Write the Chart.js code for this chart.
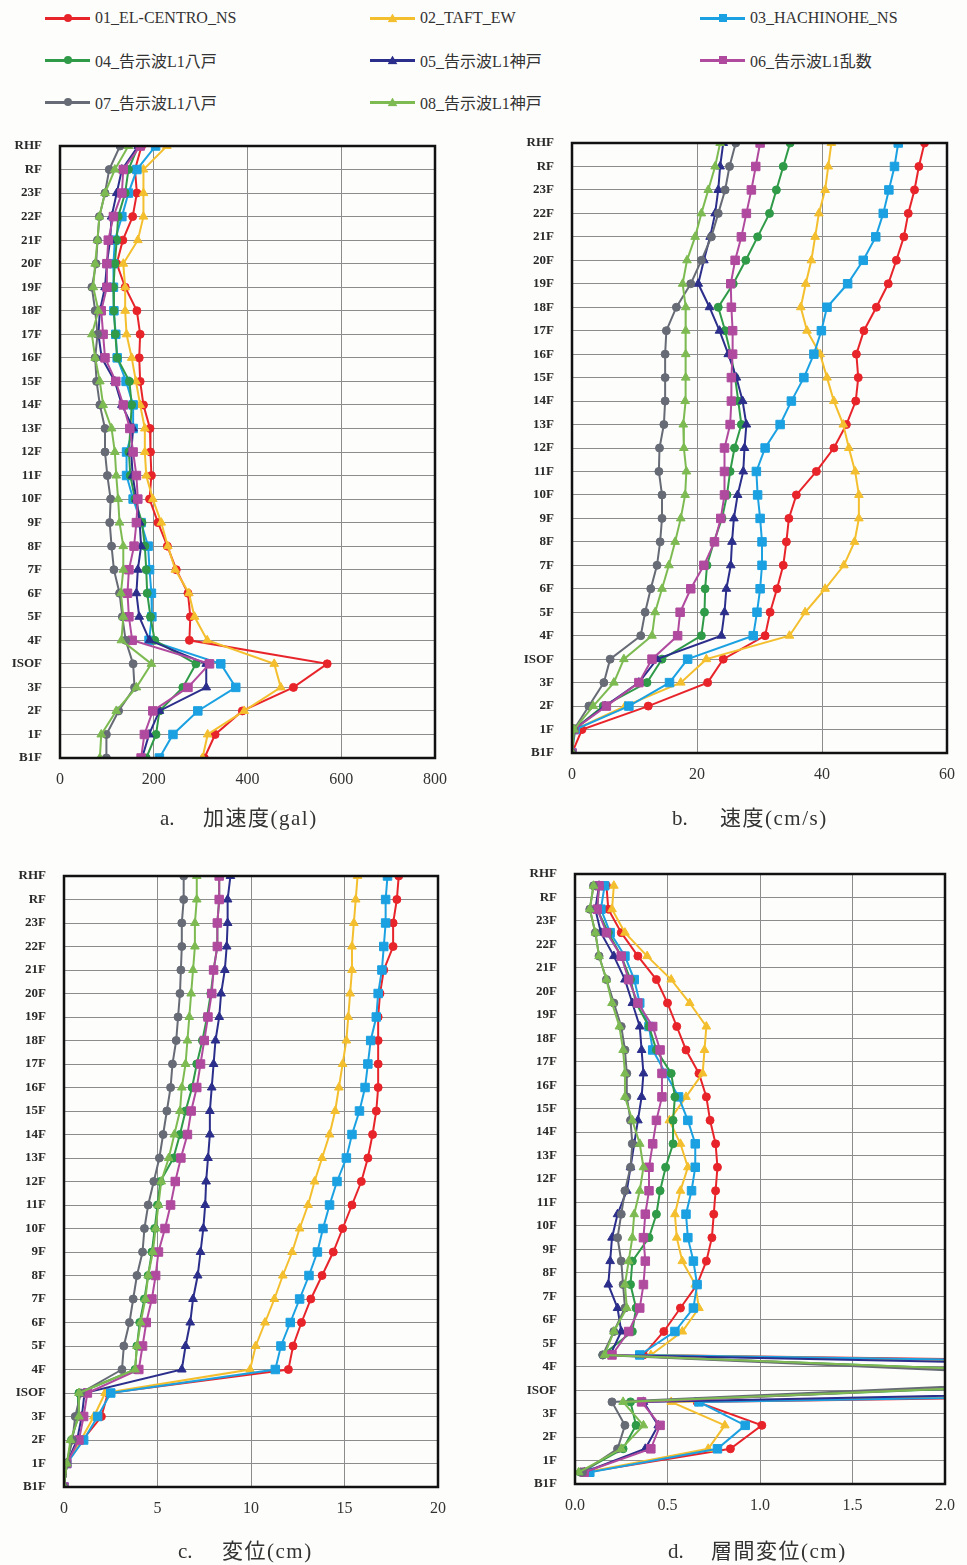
<!DOCTYPE html>
<html>
<head>
<meta charset="utf-8">
<script src="https://cdn.jsdelivr.net/npm/chart.js@4.4.1/dist/chart.umd.min.js"></script>
<style>
  html, body { margin: 0; padding: 0; background: #fdfdfb; }
  body { position: relative; width: 967px; height: 1565px; overflow: hidden;
         font-family: "Liberation Serif", "Noto Sans CJK JP", serif; color: #333; }
  .panel { position: absolute; }
  .legend-item { position: absolute; height: 20px; display: flex; align-items: center; font-size: 16px; white-space: nowrap; }
  .legend-line { position: relative; width: 45px; height: 3px; margin-right: 5px; }
  .legend-mark { position: absolute; left: 50%; top: 50%; transform: translate(-50%, -50%); }
  .caption { position: absolute; font-size: 21px; color: #333; white-space: nowrap; }
  .caption .tag { display: inline-block; }
  .caption .name { letter-spacing: 1.5px; }
</style>
</head>
<body>
<div id="legend"></div>

<canvas id="chartA" class="panel" width="460" height="720" style="left:0;top:120px"></canvas>
<canvas id="chartB" class="panel" width="467" height="700" style="left:500px;top:117px"></canvas>
<canvas id="chartC" class="panel" width="460" height="700" style="left:0;top:850px"></canvas>
<canvas id="chartD" class="panel" width="462" height="700" style="left:505px;top:848px"></canvas>

<div class="caption" style="left:160px;top:801px"><span class="tag" style="width:43px">a.</span><span class="name">加速度(gal)</span></div>
<div class="caption" style="left:672px;top:801px"><span class="tag" style="width:48px">b.</span><span class="name">速度(cm/s)</span></div>
<div class="caption" style="left:178px;top:1534px"><span class="tag" style="width:44px">c.</span><span class="name">変位(cm)</span></div>
<div class="caption" style="left:668px;top:1534px"><span class="tag" style="width:43px">d.</span><span class="name">層間変位(cm)</span></div>

<script>
// floor levels, top to bottom
const floors = ['RHF', 'RF', '23F', '22F', '21F', '20F', '19F', '18F', '17F', '16F', '15F', '14F', '13F',
  '12F', '11F', '10F', '9F', '8F', '7F', '6F', '5F', '4F', 'ISOF', '3F', '2F', '1F', 'B1F'];

const seriesNames = ['01_EL-CENTRO_NS', '02_TAFT_EW', '03_HACHINOHE_NS', '04_告示波L1八戸',
  '05_告示波L1神戸', '06_告示波L1乱数', '07_告示波L1八戸', '08_告示波L1神戸'];
const seriesColors = ['#e8242b', '#f4bf2e', '#1ba1e2', '#2f9a48', '#2b2e8a', '#b04a9e', '#666b75', '#7dbb52'];
const seriesMarkers = ['circle', 'triangle', 'rect', 'circle', 'triangle', 'rect', 'circle', 'triangle'];

// x tick values per panel
const accTicks = [0, 200, 400, 600, 800];
const velTicks = [0, 20, 40, 60];
const dspTicks = [0, 5, 10, 15, 20];
const drfTicks = [0, 0.5, 1.0, 1.5, 2.0];

// a. max acceleration (gal), per floor
const acc01 = [174, 160, 164, 155, 134, 121, 139, 164, 171, 169, 171, 178, 192, 193, 195, 191, 209, 229, 248, 273, 278, 276, 570, 498, 389, 331, 308];
const acc02 = [228, 178, 178, 178, 166, 135, 139, 139, 142, 153, 162, 171, 181, 181, 184, 198, 216, 230, 246, 275, 287, 314, 457, 471, 393, 315, 304];
const acc03 = [204, 164, 146, 132, 117, 114, 114, 115, 119, 122, 141, 156, 156, 142, 142, 156, 173, 188, 191, 195, 196, 190, 343, 375, 294, 241, 212];
const acc04 = [167, 146, 139, 124, 121, 117, 114, 115, 118, 122, 148, 153, 150, 147, 150, 160, 175, 181, 184, 186, 193, 202, 290, 262, 212, 205, 184];
const acc05 = [167, 132, 121, 110, 107, 100, 96, 85, 82, 89, 117, 132, 156, 152, 155, 163, 170, 173, 166, 163, 169, 191, 312, 312, 212, 190, 175];
const acc06 = [171, 135, 132, 114, 103, 100, 100, 88, 92, 96, 119, 135, 149, 156, 163, 166, 163, 158, 147, 144, 147, 154, 319, 273, 198, 180, 173];
const acc07 = [128, 105, 96, 84, 80, 77, 68, 75, 80, 75, 78, 85, 96, 96, 101, 108, 106, 110, 115, 127, 133, 140, 156, 159, 125, 99, 99];
const acc08 = [146, 117, 96, 84, 80, 75, 71, 82, 68, 75, 85, 92, 110, 117, 120, 124, 127, 135, 135, 130, 135, 131, 195, 163, 120, 88, 85];

// b. max velocity (cm/s), per floor
const vel01 = [56.4, 55.5, 54.8, 53.8, 53.1, 51.9, 50.6, 48.7, 46.7, 45.5, 45.8, 45.4, 43.9, 41.9, 39.1, 35.9, 34.7, 34.3, 33.8, 32.8, 31.7, 30.9, 24.2, 21.7, 12.2, 1.6, 0];
const vel02 = [41.5, 41.0, 40.5, 39.5, 38.9, 38.3, 37.4, 36.6, 37.6, 39.7, 40.8, 41.9, 43.4, 44.3, 45.3, 45.9, 45.9, 45.2, 43.5, 40.5, 37.3, 34.8, 21.5, 17.4, 8.5, 0.5, 0];
const vel03 = [52.2, 51.6, 50.7, 49.8, 48.6, 46.6, 44.1, 40.8, 39.9, 38.7, 37.1, 35.1, 33.3, 30.9, 29.5, 29.7, 30.1, 30.4, 30.4, 30.1, 29.6, 29.0, 18.5, 15.6, 9.1, 0.5, 0];
const vel04 = [34.9, 33.8, 32.7, 31.6, 29.7, 27.8, 25.8, 23.4, 24.5, 25.4, 26.1, 26.6, 27.1, 26.0, 25.3, 24.8, 24.0, 22.7, 21.6, 21.3, 21.2, 20.7, 14.4, 12.0, 5.0, 0.3, 0];
const vel05 = [24.2, 23.7, 23.4, 22.9, 22.1, 21.1, 20.2, 22.0, 23.6, 25.0, 26.3, 27.3, 27.9, 27.6, 27.4, 26.5, 25.9, 25.6, 25.4, 24.7, 24.4, 23.9, 13.6, 10.7, 5.3, 0.3, 0];
const vel06 = [30.1, 29.4, 28.7, 27.9, 27.1, 26.1, 25.4, 25.5, 25.7, 25.7, 25.5, 25.5, 25.3, 24.4, 24.4, 24.4, 23.8, 22.8, 21.1, 19.0, 17.3, 16.9, 12.8, 10.7, 5.5, 0.3, 0];
const vel07 = [26.2, 25.2, 24.5, 23.4, 22.3, 20.7, 19.0, 16.7, 15.1, 14.9, 14.9, 14.9, 14.7, 14.0, 13.9, 14.4, 14.4, 14.1, 13.6, 12.6, 11.7, 11.0, 6.1, 5.1, 2.7, 0.3, 0];
const vel08 = [23.7, 22.9, 21.8, 20.7, 19.7, 18.4, 17.7, 18.2, 18.2, 18.2, 18.2, 18.1, 17.8, 17.9, 18.3, 18.1, 17.4, 16.5, 15.5, 14.4, 13.3, 12.8, 8.3, 6.7, 3.4, 0.3, 0];

// c. max displacement (cm), per floor
const dsp01 = [17.9, 17.8, 17.6, 17.6, 17.1, 16.9, 16.8, 16.8, 16.8, 16.8, 16.7, 16.5, 16.25, 15.9, 15.4, 14.9, 14.4, 13.8, 13.2, 12.7, 12.25, 12.0, 2.35, 2.0, 1.0, 0.15, 0];
const dsp02 = [15.7, 15.6, 15.5, 15.4, 15.4, 15.3, 15.2, 15.1, 14.9, 14.7, 14.5, 14.2, 13.8, 13.4, 13.05, 12.6, 12.2, 11.7, 11.25, 10.75, 10.25, 9.95, 2.2, 1.6, 0.9, 0.15, 0];
const dsp03 = [17.3, 17.2, 17.2, 17.1, 17.0, 16.8, 16.7, 16.4, 16.25, 16.1, 15.8, 15.4, 15.1, 14.6, 14.2, 13.85, 13.55, 13.1, 12.6, 12.1, 11.6, 11.3, 2.5, 1.8, 1.05, 0.15, 0];
const dsp04 = [8.3, 8.3, 8.2, 8.2, 8.0, 7.85, 7.65, 7.4, 7.1, 6.85, 6.5, 6.2, 5.85, 5.15, 5.0, 4.85, 4.7, 4.5, 4.3, 4.05, 3.9, 3.8, 0.8, 0.75, 0.4, 0.15, 0];
const dsp05 = [8.9, 8.75, 8.75, 8.7, 8.6, 8.4, 8.3, 8.1, 8.0, 7.9, 7.8, 7.8, 7.7, 7.6, 7.55, 7.45, 7.3, 7.15, 6.9, 6.75, 6.5, 6.3, 1.1, 0.95, 0.7, 0.15, 0];
const dsp06 = [8.3, 8.3, 8.2, 8.2, 8.0, 7.9, 7.7, 7.5, 7.3, 7.1, 6.8, 6.6, 6.25, 5.95, 5.7, 5.4, 5.05, 4.9, 4.7, 4.4, 4.2, 4.0, 1.25, 1.05, 0.8, 0.15, 0];
const dsp07 = [6.4, 6.4, 6.3, 6.3, 6.25, 6.2, 6.1, 6.0, 5.8, 5.7, 5.5, 5.3, 5.1, 4.8, 4.5, 4.3, 4.2, 3.9, 3.7, 3.5, 3.2, 3.1, 0.9, 0.6, 0.45, 0.15, 0];
const dsp08 = [7.1, 7.1, 7.0, 7.0, 6.9, 6.8, 6.7, 6.6, 6.5, 6.3, 6.2, 5.9, 5.6, 5.2, 5.05, 4.9, 4.75, 4.5, 4.35, 4.1, 3.9, 3.8, 0.8, 0.8, 0.35, 0.15, 0];

// d. max story drift (cm), per story (RHF-RF ... 1F-B1F)
const drf01 = [0.17, 0.18, 0.25, 0.34, 0.44, 0.50, 0.55, 0.60, 0.67, 0.71, 0.73, 0.76, 0.77, 0.76, 0.75, 0.74, 0.71, 0.66, 0.57, 0.48, 0.37, 9.8, 0.66, 1.01, 0.84, 0.06];
const drf02 = [0.21, 0.20, 0.27, 0.39, 0.52, 0.62, 0.71, 0.70, 0.69, 0.60, 0.51, 0.57, 0.61, 0.57, 0.54, 0.55, 0.58, 0.65, 0.67, 0.58, 0.41, 8.0, 0.52, 0.81, 0.72, 0.06];
const drf03 = [0.16, 0.14, 0.19, 0.27, 0.32, 0.35, 0.40, 0.42, 0.49, 0.56, 0.61, 0.65, 0.65, 0.63, 0.60, 0.61, 0.64, 0.66, 0.64, 0.54, 0.35, 9.0, 0.67, 0.92, 0.77, 0.08];
const drf04 = [0.13, 0.12, 0.18, 0.25, 0.30, 0.33, 0.40, 0.44, 0.52, 0.54, 0.53, 0.53, 0.49, 0.46, 0.44, 0.40, 0.31, 0.30, 0.33, 0.31, 0.15, 3.4, 0.30, 0.33, 0.26, 0.03];
const drf05 = [0.13, 0.11, 0.14, 0.21, 0.27, 0.31, 0.35, 0.36, 0.37, 0.36, 0.34, 0.32, 0.30, 0.28, 0.23, 0.20, 0.19, 0.18, 0.23, 0.25, 0.19, 6.5, 0.37, 0.45, 0.38, 0.05];
const drf06 = [0.13, 0.12, 0.17, 0.25, 0.29, 0.34, 0.42, 0.46, 0.47, 0.47, 0.44, 0.42, 0.40, 0.40, 0.38, 0.37, 0.38, 0.37, 0.35, 0.29, 0.20, 3.2, 0.36, 0.46, 0.41, 0.05];
const drf07 = [0.10, 0.08, 0.11, 0.13, 0.17, 0.21, 0.25, 0.27, 0.28, 0.28, 0.30, 0.31, 0.30, 0.27, 0.25, 0.23, 0.25, 0.26, 0.27, 0.21, 0.15, 3.0, 0.20, 0.27, 0.23, 0.04];
const drf08 = [0.10, 0.08, 0.11, 0.13, 0.17, 0.20, 0.24, 0.26, 0.27, 0.27, 0.31, 0.35, 0.37, 0.35, 0.32, 0.31, 0.29, 0.27, 0.28, 0.21, 0.16, 3.4, 0.26, 0.37, 0.25, 0.02];

// marker size per style
const markerRadius = { circle: 4, triangle: 5, rect: 6 };

// thick black frame around the plot area
const framePlugin = {
  id: 'frame',
  afterDatasetsDraw(chart) {
    const { ctx, chartArea: a } = chart;
    ctx.save();
    ctx.strokeStyle = '#111';
    ctx.lineWidth = 2.5;
    ctx.strokeRect(a.left, a.top, a.right - a.left, a.bottom - a.top);
    ctx.restore();
  }
};

function buildPanel(canvasId, series, xTicks, cfg) {
  const datasets = series.map((vals, k) => ({
    label: seriesNames[k],
    data: vals.map((v, i) => ({ x: v, y: i + cfg.yShift })),
    borderColor: seriesColors[k],
    backgroundColor: seriesColors[k],
    pointStyle: seriesMarkers[k],
    pointRadius: markerRadius[seriesMarkers[k]],
    pointBorderWidth: 1,
    borderWidth: 2,
    // later series are painted over earlier ones
    order: series.length - k,
    clip: cfg.clip
  }));

  new Chart(document.getElementById(canvasId), {
    type: 'line',
    data: { datasets },
    plugins: [framePlugin],
    options: {
      indexAxis: 'y',
      responsive: false,
      animation: false,
      events: [],
      layout: { padding: { top: 26, right: cfg.padRight, left: 0, bottom: 0 } },
      plugins: { legend: { display: false }, tooltip: { enabled: false } },
      scales: {
        x: {
          type: 'linear',
          min: xTicks[0],
          max: xTicks[xTicks.length - 1],
          afterFit(scale) { scale.height = cfg.xHeight; },
          border: { display: false },
          grid: { color: '#8c8c8c', lineWidth: 1, drawTicks: false },
          ticks: {
            stepSize: xTicks[1] - xTicks[0],
            autoSkip: false,
            maxRotation: 0,
            padding: 12,
            color: '#333',
            font: { family: 'Liberation Serif', size: 16 },
            callback: cfg.xFormat
          }
        },
        y: {
          type: 'linear',
          reverse: true,
          min: 0,
          max: floors.length - 1,
          afterFit(scale) { scale.width = cfg.yWidth; },
          border: { display: false },
          grid: { color: '#8c8c8c', lineWidth: 1, drawTicks: false },
          ticks: {
            stepSize: 1,
            maxTicksLimit: 40,
            autoSkip: false,
            padding: 18,
            color: '#2a2a2a',
            font: { family: 'Liberation Serif', size: 13, weight: 'bold' },
            callback: v => floors[v]
          }
        }
      }
    }
  });
}

const plainFormat = v => String(v);
const oneDecimal = v => v.toFixed(1);

buildPanel('chartA', [acc01, acc02, acc03, acc04, acc05, acc06, acc07, acc08], accTicks,
  { yShift: 0, yWidth: 60, xHeight: 82, padRight: 25, xFormat: plainFormat });
buildPanel('chartB', [vel01, vel02, vel03, vel04, vel05, vel06, vel07, vel08], velTicks,
  { yShift: 0, yWidth: 72, xHeight: 64, padRight: 20, xFormat: plainFormat });
buildPanel('chartC', [dsp01, dsp02, dsp03, dsp04, dsp05, dsp06, dsp07, dsp08], dspTicks,
  { yShift: 0, yWidth: 64, xHeight: 63, padRight: 22, xFormat: plainFormat });
// story drift points sit between floor lines; the isolation layer runs off scale
buildPanel('chartD', [drf01, drf02, drf03, drf04, drf05, drf06, drf07, drf08], drfTicks,
  { yShift: 0.5, yWidth: 70, xHeight: 64, padRight: 17, xFormat: oneDecimal,
    clip: { left: 6, top: 6, right: 1, bottom: 6 } });

// shared legend above the panels
const legendCols = [45, 370, 700];
const legend = document.getElementById('legend');
seriesNames.forEach((name, k) => {
  const item = document.createElement('div');
  item.className = 'legend-item';
  item.style.left = legendCols[k % 3] + 'px';
  item.style.top = (8 + Math.floor(k / 3) * 42) + 'px';

  const line = document.createElement('div');
  line.className = 'legend-line';
  line.style.background = seriesColors[k];

  const mark = document.createElement('div');
  mark.className = 'legend-mark';
  mark.style.background = seriesColors[k];
  if (seriesMarkers[k] === 'circle') {
    mark.style.width = '8px'; mark.style.height = '8px'; mark.style.borderRadius = '50%';
  } else if (seriesMarkers[k] === 'rect') {
    mark.style.width = '8px'; mark.style.height = '8px';
  } else {
    mark.style.width = '10px'; mark.style.height = '9px';
    mark.style.clipPath = 'polygon(50% 0, 100% 100%, 0 100%)';
  }
  line.appendChild(mark);

  const label = document.createElement('span');
  label.textContent = name;

  item.appendChild(line);
  item.appendChild(label);
  legend.appendChild(item);
});
</script>
</body>
</html>
